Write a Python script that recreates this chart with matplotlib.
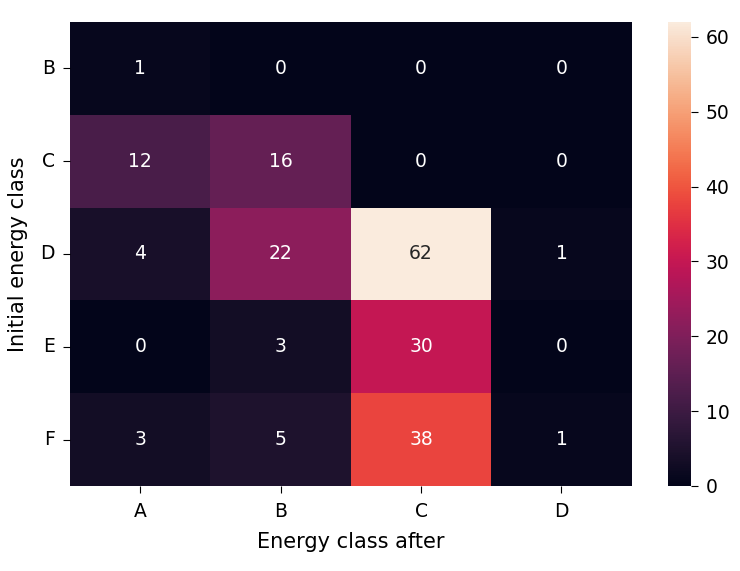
import matplotlib
matplotlib.use("Agg")
import matplotlib.pyplot as plt
import seaborn as sns
import numpy as np

rows = ["B", "C", "D", "E", "F"]
cols = ["A", "B", "C", "D"]
values = [
    [1, 0, 0, 0],
    [12, 16, 0, 0],
    [4, 22, 62, 1],
    [0, 3, 30, 0],
    [3, 5, 38, 1],
]

fig = plt.figure(figsize=(7.4, 5.71), dpi=100)
ax = fig.add_axes([0.0946, 0.1489, 0.759, 0.8126])
cax = fig.add_axes([0.9027, 0.1489, 0.031, 0.8126])
sns.heatmap(np.array(values), annot=True, fmt="d", ax=ax, cbar_ax=cax,
            xticklabels=cols, yticklabels=rows, annot_kws={"size": 13.5})
ax.set_xlabel("Energy class after", fontsize=15, labelpad=8)
ax.set_ylabel("Initial energy class", fontsize=15, labelpad=9)
ax.tick_params(axis='y', rotation=0, labelsize=13.5, length=5, pad=6)
ax.tick_params(axis='x', labelsize=13.5, length=5, pad=6.5)
cax.tick_params(labelsize=13.5, length=5, pad=5.5)
fig.savefig("out.png", dpi=100)
